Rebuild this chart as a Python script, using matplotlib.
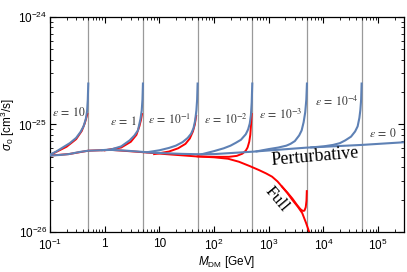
import numpy as np
import matplotlib
matplotlib.use('Agg')
import matplotlib.pyplot as plt

plt.rcParams['font.family'] = 'Liberation Sans'
plt.rcParams['mathtext.fontset'] = 'custom'
plt.rcParams['mathtext.rm'] = 'Liberation Sans'
plt.rcParams['mathtext.it'] = 'Liberation Sans:italic'

# data
thresholds = [0.5, 5, 50, 500, 5000, 50000]

pert_x = [0.1, 0.15, 0.22, 0.35, 0.5, 0.8, 1.3, 2.5, 4.4, 8, 13, 25, 46, 100, 500, 5000, 5e4, 3e5]
pert_y = [5.14e-26, 5.2e-26, 5.3e-26, 5.55e-26, 5.7e-26, 5.75e-26, 5.8e-26, 5.7e-26, 5.58e-26,
          5.45e-26, 5.4e-26, 5.33e-26, 5.29e-26, 5.3e-26, 5.58e-26, 6.09e-26, 6.45e-26, 6.83e-26]

eps10_x = [0.1, 0.13, 0.17, 0.23, 0.3, 0.36, 0.41, 0.45, 0.475, 0.49, 0.5]
eps10_y = [5.25e-26, 5.6e-26, 6.1e-26, 6.7e-26, 7.5e-26, 8.5e-26, 9.6e-26, 1.12e-25, 1.32e-25, 1.7e-25, 2.4e-25]
eps1_x = [0.9, 1.3, 2.0, 2.85, 3.5, 4.05, 4.5, 4.75, 4.9, 5.0]
eps1_y = [5.77e-26, 5.85e-26, 6.25e-26, 7.1e-26, 7.9e-26, 8.8e-26, 1.12e-25, 1.35e-25, 1.7e-25, 2.4e-25]
eps01_x = [6, 10, 15, 20, 26.6, 33, 38, 42, 45, 47.5, 49, 50]
eps01_y = [5.52e-26, 5.75e-26, 6.05e-26, 6.35e-26, 6.85e-26, 7.5e-26, 8.2e-26, 9.2e-26, 1.08e-25, 1.35e-25, 1.7e-25, 2.4e-25]
eps001_x = [60, 100, 150, 200, 250, 310, 380, 420, 450, 472, 488, 500]
eps001_y = [5.29e-26, 5.65e-26, 6.0e-26, 6.35e-26, 6.75e-26, 7.2e-26, 8.1e-26, 9.0e-26, 1.02e-25, 1.22e-25, 1.6e-25, 2.4e-25]
eps1e3_x = [600, 1000, 1500, 2100, 2500, 3000, 3600, 4000, 4350, 4650, 4870, 5000]
eps1e3_y = [5.62e-26, 5.9e-26, 6.1e-26, 6.35e-26, 6.6e-26, 7.0e-26, 7.9e-26, 8.8e-26, 1.05e-25, 1.3e-25, 1.7e-25, 2.4e-25]
eps1e4_x = [6000, 10000, 15000, 20000, 25000, 32000, 38000, 42300, 45500, 47500, 49000, 50000]
eps1e4_y = [6.12e-26, 6.25e-26, 6.45e-26, 6.7e-26, 7.1e-26, 7.7e-26, 8.6e-26, 9.6e-26, 1.15e-25, 1.37e-25, 1.7e-25, 2.4e-25]

full_x = [0.1, 0.22, 0.5, 1.3, 4.4, 13, 46, 100, 180, 285, 450, 660, 900, 1150, 1450, 1750, 2200,
          2700, 3400, 4100, 4800, 5500, 6500]
full_y = [5.14e-26, 5.3e-26, 5.7e-26, 5.8e-26, 5.55e-26, 5.3e-26, 5.05e-26, 4.95e-26, 4.8e-26, 4.5e-26,
          4.1e-26, 3.77e-26, 3.5e-26, 3.27e-26, 2.95e-26, 2.64e-26, 2.3e-26, 1.99e-26, 1.72e-26, 1.5e-26,
          1.22e-26, 1.0e-26, 7.5e-27]
full10_x = [0.1, 0.2, 0.3, 0.38, 0.43, 0.46, 0.48]
full10_y = [5.2e-26, 6.2e-26, 7.3e-26, 8.7e-26, 1.02e-25, 1.15e-25, 1.25e-25]
full1_x = [1.0, 2.0, 3.0, 3.8, 4.3, 4.6, 4.8]
full1_y = [5.75e-26, 6.1e-26, 6.9e-26, 8.0e-26, 9.6e-26, 1.1e-25, 1.25e-25]
full01_x = [8, 15, 22, 30, 36, 41, 44.5, 47]
full01_y = [5.3e-26, 5.6e-26, 6.0e-26, 6.6e-26, 7.4e-26, 8.6e-26, 1.0e-25, 1.2e-25]
full001_x = [50, 100, 187, 260, 330, 380, 410, 440, 460, 475, 487]
full001_y = [5.05e-26, 5.0e-26, 5.0e-26, 5.1e-26, 5.35e-26, 5.7e-26, 6.1e-26, 6.9e-26, 8.0e-26, 1.0e-25, 1.25e-25]
full1e3_x = [1750, 2200, 2700, 3300, 3800, 4200, 4500, 4750, 4900, 4970]
full1e3_y = [2.64e-26, 2.32e-26, 2.05e-26, 1.78e-26, 1.63e-26, 1.57e-26, 1.58e-26, 1.7e-26, 1.95e-26, 2.4e-26]

eps_labels = [r'$\epsilon\:=\:10$', r'$\epsilon\:=\:1$', r'$\epsilon\:=\:10^{-1}$', r'$\epsilon\:=\:10^{-2}$',
              r'$\epsilon\:=\:10^{-3}$', r'$\epsilon\:=\:10^{-4}$', r'$\epsilon\:=\:0$']
eps_lab_x = [0.22, 2.22, 15.7, 165, 1690, 1.8e4, 1.22e5]
eps_lab_y = [1.28e-25, 1.06e-25, 1.10e-25, 1.10e-25, 1.23e-25, 1.63e-25, 8.3e-26]

xticks = [0.1, 1, 10, 100, 1000, 1e4, 1e5]
xticklabels = [r'$10^{-1}$', '1', '10', r'$10^{2}$', r'$10^{3}$', r'$10^{4}$', r'$10^{5}$']
yticks = [1e-26, 1e-25, 1e-24]
yticklabels = [r'$10^{-26}$', r'$10^{-25}$', r'$10^{-24}$']

blue = '#5E81B5'
red = '#FF0000'

fig = plt.figure(figsize=(4.07, 2.72), dpi=100)
ax = fig.add_axes([0.123, 0.147, 0.870, 0.791])

for t in thresholds:
    ax.axvline(t, color='#9a9a9a', lw=0.9, zorder=1)

# full (red) curves under the perturbative ones
for xs, ys in [(full_x, full_y), (full10_x, full10_y), (full1_x, full1_y), (full01_x, full01_y),
               (full001_x, full001_y), (full1e3_x, full1e3_y)]:
    ax.plot(xs, ys, color=red, lw=1.4, zorder=2)

for xs, ys in [(pert_x, pert_y), (eps10_x, eps10_y), (eps1_x, eps1_y), (eps01_x, eps01_y),
               (eps001_x, eps001_y), (eps1e3_x, eps1e3_y), (eps1e4_x, eps1e4_y)]:
    ax.plot(xs, ys, color=blue, lw=1.5, zorder=3)

ax.set_xscale('log')
ax.set_yscale('log')
ax.set_xlim(0.1, 3e5)
ax.set_ylim(1e-26, 1e-24)
ax.set_xticks(xticks, xticklabels)
ax.set_yticks(yticks, yticklabels)
ax.tick_params(which='both', direction='in', top=True, right=True, labelsize=8.5)
ax.tick_params(axis='x', pad=4)
ax.tick_params(axis='y', pad=2)
ax.tick_params(which='major', length=4, width=0.8)
ax.tick_params(which='minor', length=2.2, width=0.6)
for s in ax.spines.values():
    s.set_linewidth(0.9)

ax.set_xlabel(r'$M_{\rm DM}$ [GeV]', fontsize=8.5, labelpad=1)
ax.set_ylabel(r'$\sigma_0$ [cm$^3$/s]', fontsize=8.5, labelpad=1)

for lab, lx, ly in zip(eps_labels, eps_lab_x, eps_lab_y):
    ax.text(lx, ly, lab, fontsize=8.5, ha='center', va='center', color='#333333',
            math_fontfamily='stix', zorder=4)

ax.text(7060, 5.0e-26, 'Perturbative', fontsize=13, family='Liberation Serif',
        ha='center', va='center', rotation=5, zorder=4)
ax.text(1365, 2.03e-26, 'Full', fontsize=12.5, family='Liberation Serif',
        ha='center', va='center', rotation=-50, zorder=4)

fig.savefig('out.png', dpi=100)
